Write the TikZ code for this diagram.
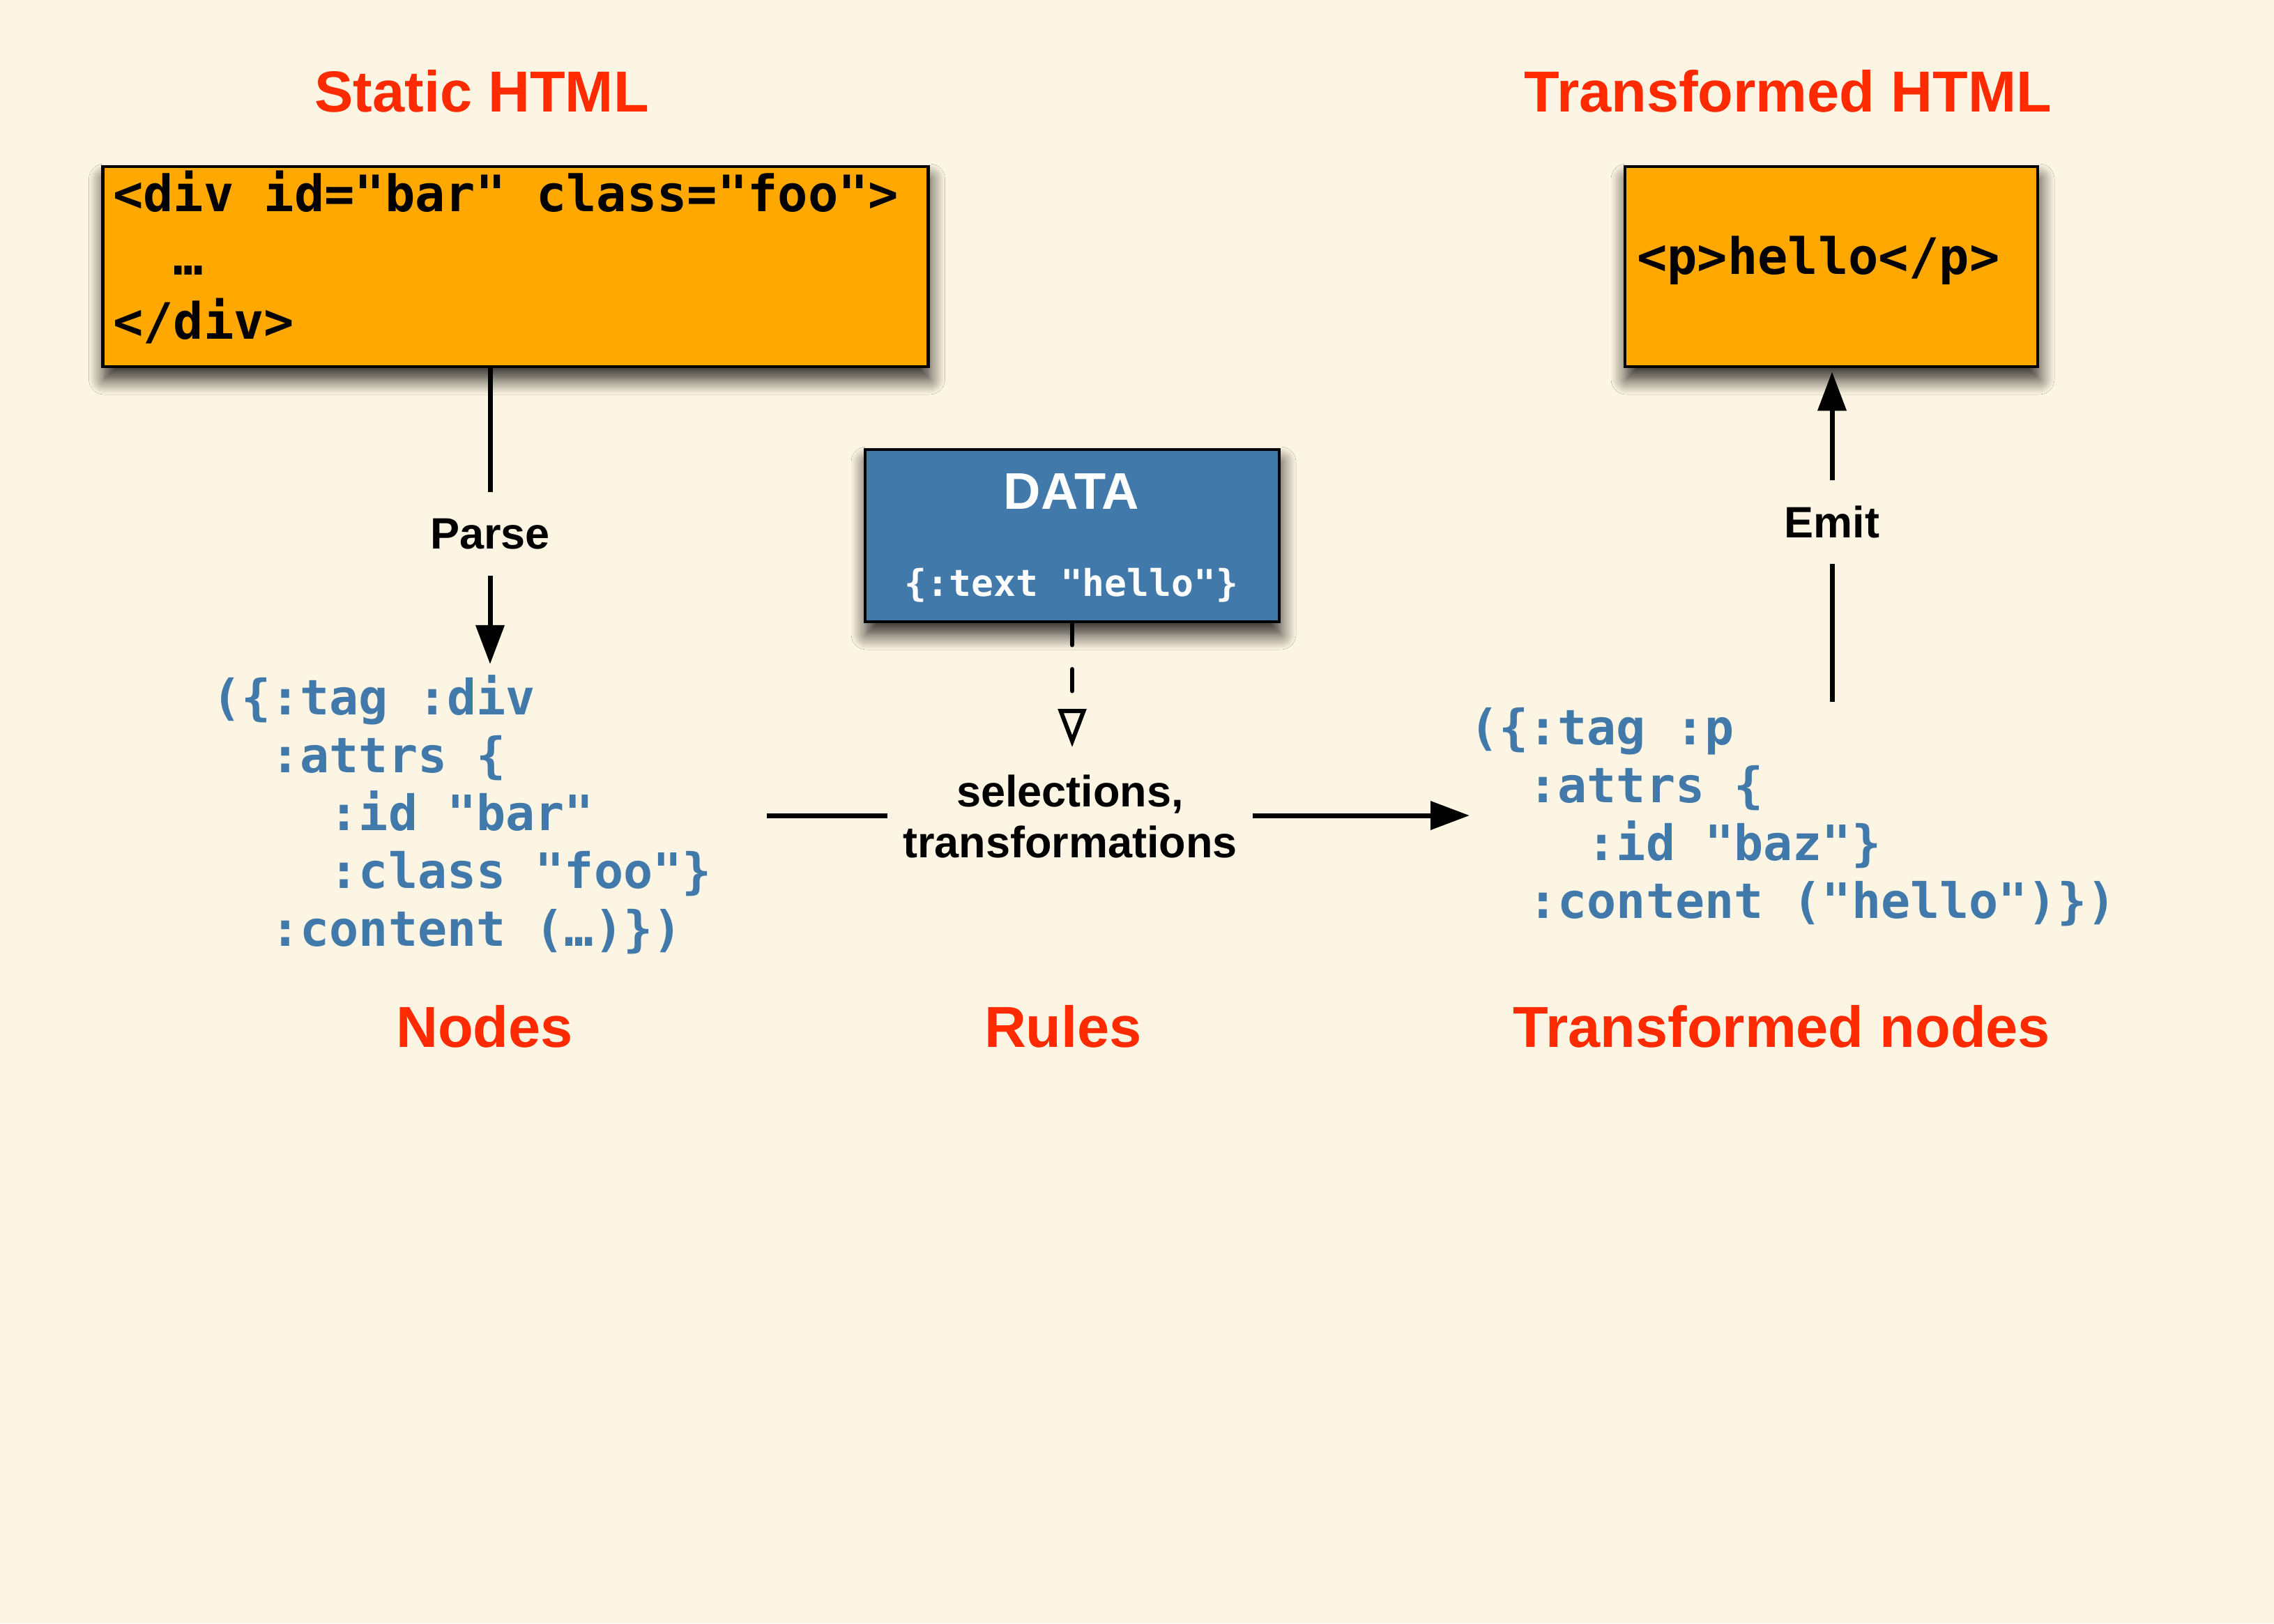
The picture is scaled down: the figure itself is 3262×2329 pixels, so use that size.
\documentclass[tikz,border=0pt]{standalone}
\usepackage{fontspec}
\setmainfont{Liberation Sans}
\newfontfamily\codefont{DejaVu Sans Mono}
\usetikzlibrary{arrows.meta,shadows.blur}

\definecolor{paper}{HTML}{FDF5E3}
\definecolor{boxorange}{HTML}{FFA800}
\definecolor{titlered}{HTML}{FF2A00}
\definecolor{cljblue}{HTML}{4279AB}

\begin{document}
\begin{tikzpicture}[x=1pt,y=-1pt,
  panel/.style={draw=black, line width=4.5pt, rectangle, inner sep=0pt,
    blur shadow={shadow xshift=2pt, shadow yshift=-18pt,
      shadow blur radius=22pt, shadow blur steps=12, shadow opacity=85}},
  htmlbox/.style={panel, fill=boxorange, minimum width=592pt, minimum height=287pt},
  title/.style={font=\fontsize{83}{99}\selectfont\bfseries, text=titlered,
    anchor=base, inner sep=0pt},
  steplabel/.style={font=\fontsize{63}{73}\selectfont\bfseries, align=center,
    inner sep=0pt, minimum height=120pt},
  htmlcode/.style={font=\codefont\bfseries\fontsize{72}{91.5}\selectfont,
    align=left, anchor=base west, inner sep=0pt},
  cljcode/.style={font=\codefont\bfseries\fontsize{70}{83}\selectfont,
    text=cljblue, align=left, anchor=base west, inner sep=0pt},
  flow/.style={line width=7pt, draw=black},
  tip/.style={-{Triangle[length=56pt,width=40pt]}}
]
% paper
\fill[paper] (0,0) rectangle (3262,2329);
\useasboundingbox (0,0) rectangle (3262,2329);

% titles
\node[title] (tstatic) at (691,160) {Static HTML};
\node[title] (ttrans) at (2565,160) {Transformed HTML};
\node[title] (tnodes) at (695,1502) {Nodes};
\node[title] (trules) at (1525,1502) {Rules};
\node[title] (ttnodes) at (2556,1502) {Transformed nodes};

% html boxes (multi-line text is anchored on its last baseline)
\node[htmlbox, minimum width=1184pt] (static) at (739.5,382.5) {};
\node[htmlcode] (statictext) at (162,486)
  {<div id="bar" class="foo">\\\phantom{xx}…\\</div>};

\node[htmlbox] (outbox) at (2627,382.5) {};
\node[htmlcode] (outtext) at (2348,393) {<p>hello</p>};

% data box
\node[panel, fill=cljblue, minimum width=594pt, minimum height=247pt]
  (data) at (1538,768.5) {};
\node[font=\fontsize{74}{88}\selectfont\bfseries, text=white, anchor=base,
  inner sep=0pt] (datatitle) at (1537,730) {DATA};
\node[font=\codefont\bfseries\fontsize{53}{64}\selectfont, text=white,
  anchor=base, inner sep=0pt] (datamap) at (1537,855) {\{:text "hello"\}};

% parsed node trees
\node[cljcode] (nodescode) at (304,1357)
  {(\{:tag :div\\
   \phantom{xx}:attrs \{\\
   \phantom{xxxx}:id "bar"\\
   \phantom{xxxx}:class "foo"\}\\
   \phantom{xx}:content (…)\})};
\node[cljcode] (tcode) at (2108,1317)
  {(\{:tag :p\\
   \phantom{xx}:attrs \{\\
   \phantom{xxxx}:id "baz"\}\\
   \phantom{xx}:content ("hello")\})};

% step labels
\node[steplabel] (parse) at (703,766) {Parse};
\node[steplabel] (emit) at (2628,749) {Emit};
\node[steplabel, inner xsep=22pt] (rules) at (1535,1171)
  {selections,\\transformations};

% connectors
\draw[flow] (static.south -| parse) -- (parse.north);
\draw[flow, tip, shorten >=15pt] (parse.south) -- (parse |- nodescode.north);

\draw[flow, tip, shorten >=5pt] (emit.north) -- (emit |- outbox.south);
\draw[flow, shorten <=8pt] (emit |- tcode.north) -- (emit.south);

\coordinate (rulesin) at (1100,1170);
\draw[flow] (rulesin) -- (rules.west |- rulesin);
\draw[flow, tip] (rules.east |- rulesin) -- (tcode.west |- rulesin);

\draw[line width=6.5pt, line cap=round, dash pattern=on 31pt off 35pt,
  -{Triangle[open,length=55pt,width=40pt,line width=6pt]}]
  (data.south) -- (data.south |- 0,1072);
\end{tikzpicture}
\end{document}
